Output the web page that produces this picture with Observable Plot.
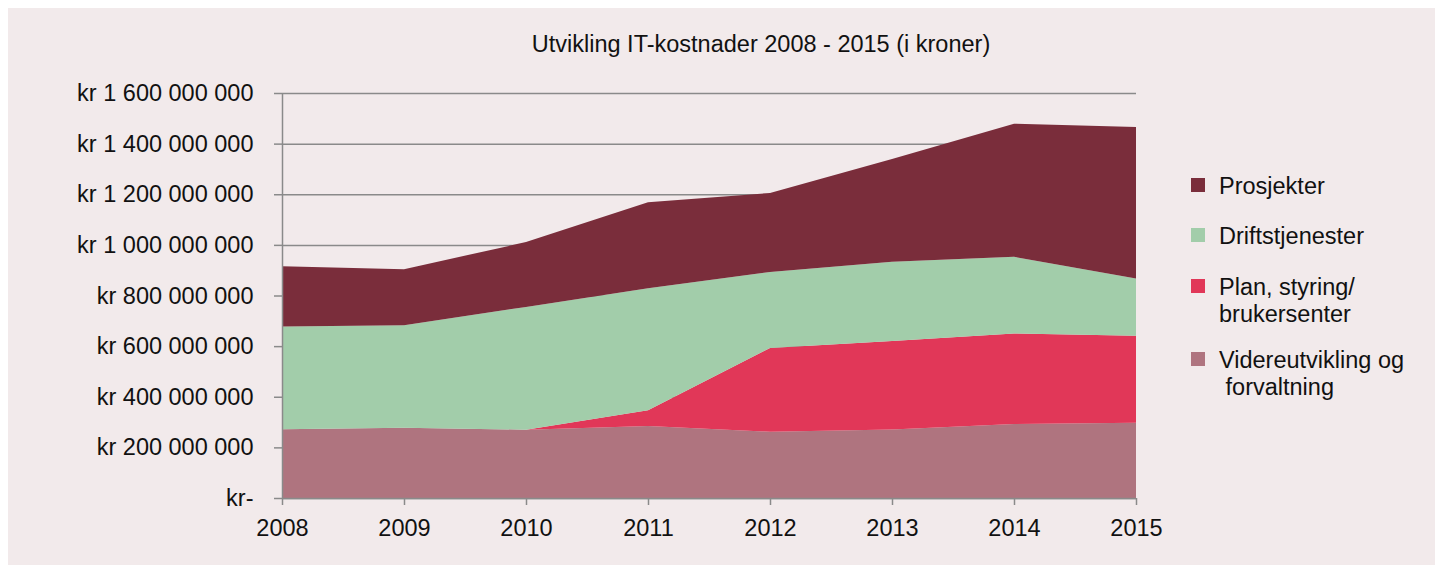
<!DOCTYPE html>
<html>
<head>
<meta charset="utf-8">
<script src="https://cdn.jsdelivr.net/npm/d3@7"></script>
<script src="https://cdn.jsdelivr.net/npm/@observablehq/plot@0.6"></script>
<style>
  html, body { margin: 0; padding: 0; background: #ffffff; }
  #frame { position: absolute; left: 8px; top: 8px; width: 1427px; height: 557px; background: #f2eaeb; }
  #chart { position: absolute; left: 0; top: 0; }
  .txt { font-family: "Liberation Sans", Arial, Helvetica, sans-serif; color: #111; }
  #title { position: absolute; left: 411px; width: 700px; top: 29px; text-align: center; font-size: 23.5px; line-height: 30px; }
  .leg { position: absolute; left: 1191px; font-size: 23.5px; line-height: 27px; white-space: pre; }
  .leg .sw { position: absolute; left: 0; width: 14px; height: 14px; }
  .leg .lab { position: absolute; left: 28px; top: 0; }
</style>
</head>
<body>
<div id="frame"></div>
<div id="chart"></div>
<div id="title" class="txt">Utvikling IT-kostnader 2008 - 2015 (i kroner)</div>
<div id="legend"></div>
<script>
const years = [2008, 2009, 2010, 2011, 2012, 2013, 2014, 2015];
const categories = ["Videreutvikling og forvaltning", "Plan, styring/ brukersenter", "Driftstjenester", "Prosjekter"];
const colors = ["#af747f", "#e13758", "#a2cdaa", "#7a2d3b"];
// values in kroner
const videreutvikling = [272e6, 278e6, 270e6, 284e6, 262e6, 271e6, 292e6, 297e6];
const planStyring = [0, 0, 0, 63e6, 331e6, 349e6, 358e6, 344e6];
const driftstjenester = [406e6, 404e6, 485e6, 482e6, 300e6, 313e6, 303e6, 226e6];
const prosjekter = [238e6, 222e6, 256e6, 339e6, 312e6, 406e6, 526e6, 599e6];
const yTicks = [0, 200e6, 400e6, 600e6, 800e6, 1000e6, 1200e6, 1400e6, 1600e6];

const legendItems = [
  {cat: "Prosjekter", label: "Prosjekter"},
  {cat: "Driftstjenester", label: "Driftstjenester"},
  {cat: "Plan, styring/ brukersenter", label: "Plan, styring/\nbrukersenter"},
  {cat: "Videreutvikling og forvaltning", label: "Videreutvikling og\n forvaltning"}
];

const series = [videreutvikling, planStyring, driftstjenester, prosjekter];
const data = [];
categories.forEach((c, i) => years.forEach((y, j) => data.push({year: y, category: c, value: series[i][j]})));

const fmt = d => d === 0 ? "kr-" : "kr " + d3.format(",")(d).replace(/,/g, " ");
const gray = "#8a8a8a";

const plot = Plot.plot({
  width: 1435,
  height: 565,
  marginLeft: 282,
  marginRight: 299,
  marginTop: 93,
  marginBottom: 67,
  style: {background: "transparent", fontFamily: "'Liberation Sans', Arial, Helvetica, sans-serif", fontSize: "23.5px", color: "#111"},
  x: {domain: [2008, 2015], ticks: years, tickFormat: d => String(d), label: null},
  y: {domain: [0, 1600e6], label: null},
  color: {domain: categories, range: colors},
  marks: [
    Plot.ruleY(yTicks, {stroke: gray, strokeWidth: 1.5}),
    Plot.areaY(data, {x: "year", y: "value", z: "category", fill: "category", order: categories, fillOpacity: 1}),
    Plot.ruleX([2008], {stroke: gray, strokeWidth: 1.5}),
    Plot.ruleY([0], {stroke: gray, strokeWidth: 1.5}),
    Plot.axisY({ticks: yTicks, tickFormat: fmt, tickSize: 8, tickPadding: 21, stroke: gray, strokeWidth: 1.5, fontSize: 23.5, label: null}),
    Plot.axisX({ticks: years, tickFormat: d => String(d), tickSize: 7, tickPadding: 14, stroke: gray, strokeWidth: 1.5, fontSize: 23.5, label: null})
  ]
});
document.getElementById("chart").appendChild(plot);

// legend
const legTops = [173, 223, 274, 347];
const legend = document.getElementById("legend");
legendItems.forEach((it, i) => {
  const div = document.createElement("div");
  div.className = "leg txt";
  div.style.top = legTops[i] + "px";
  const sw = document.createElement("div");
  sw.className = "sw";
  sw.style.top = "5px";
  sw.style.background = colors[categories.indexOf(it.cat)];
  const lab = document.createElement("div");
  lab.className = "lab";
  lab.textContent = it.label;
  div.appendChild(sw);
  div.appendChild(lab);
  legend.appendChild(div);
});
</script>
</body>
</html>
